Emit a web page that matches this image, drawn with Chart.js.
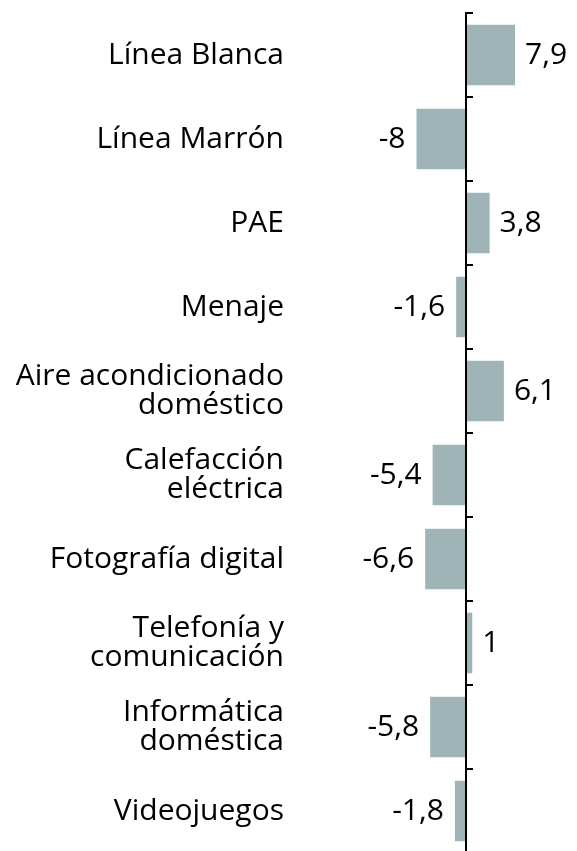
<!DOCTYPE html>
<html>
<head>
<meta charset="utf-8">
<script src="https://cdn.jsdelivr.net/npm/chart.js@4"></script>
<style>
  html, body { margin: 0; padding: 0; background: #fff; overflow: hidden; }
  #wrap { width: 577px; height: 860px; }
</style>
</head>
<body>
<div id="wrap"><canvas id="chart" width="577" height="860"></canvas></div>
<script>
const categorias = [
  'Línea Blanca',
  'Línea Marrón',
  'PAE',
  'Menaje',
  ['Aire acondicionado', 'doméstico'],
  ['Calefacción', 'eléctrica'],
  'Fotografía digital',
  ['Telefonía y', 'comunicación'],
  ['Informática', 'doméstica'],
  'Videojuegos'
];
const variacion = [7.9, -8, 3.8, -1.6, 6.1, -5.4, -6.6, 1, -5.8, -1.8];

const negro = '#000';
const fuente = { family: '"Open Sans", sans-serif', size: 30, lineHeight: 0.94 };

// linea del cero con marcas entre categorias
const ejeCero = {
  id: 'ejeCero',
  afterDatasetsDraw(chart) {
    const { ctx, scales: { x, y }, chartArea } = chart;
    const x0 = Math.round(x.getPixelForValue(0));
    ctx.save();
    ctx.strokeStyle = negro;
    ctx.lineWidth = 2;
    ctx.beginPath();
    ctx.moveTo(x0, chartArea.top - 1);
    ctx.lineTo(x0, chartArea.bottom);
    ctx.stroke();
    for (let i = 0; i < categorias.length; i++) {
      const yy = Math.round(y.getPixelForValue(i - 0.5));
      ctx.beginPath();
      ctx.moveTo(x0 - 1, yy);
      ctx.lineTo(x0 + 7, yy);
      ctx.stroke();
    }
    ctx.restore();
  }
};

// etiquetas de valor al lado de cada barra
const etiquetas = {
  id: 'etiquetas',
  afterDatasetsDraw(chart) {
    const { ctx } = chart;
    const meta = chart.getDatasetMeta(0);
    ctx.save();
    ctx.font = fuente.size + 'px ' + fuente.family;
    ctx.fillStyle = negro;
    ctx.textBaseline = 'middle';
    meta.data.forEach((bar, i) => {
      const v = variacion[i];
      const txt = String(v).replace('.', ',');
      if (v >= 0) {
        ctx.textAlign = 'left';
        ctx.fillText(txt, bar.x + 10, bar.y);
      } else {
        ctx.textAlign = 'right';
        ctx.fillText(txt, bar.x - 11, bar.y);
      }
    });
    ctx.restore();
  }
};

new Chart(document.getElementById('chart'), {
  type: 'bar',
  data: {
    labels: categorias,
    datasets: [{
      data: variacion,
      backgroundColor: '#9eb4b7',
      borderWidth: 0,
      barPercentage: 0.72,
      categoryPercentage: 1
    }]
  },
  options: {
    indexAxis: 'y',
    responsive: false,
    animation: false,
    layout: { padding: { top: 13, bottom: 7, left: 0, right: 0 } },
    plugins: { legend: { display: false }, tooltip: { enabled: false } },
    scales: {
      x: {
        display: false,
        min: -26.8,
        max: 17.9
      },
      y: {
        grid: { display: false, drawTicks: false },
        border: { display: false },
        ticks: { color: negro, font: fuente, padding: 16, autoSkip: false },
        afterFit(scale) {
          scale.width = 300;
          scale.paddingTop = 0;
          scale.paddingBottom = 0;
        }
      }
    }
  },
  plugins: [ejeCero, etiquetas]
});
</script>
</body>
</html>
